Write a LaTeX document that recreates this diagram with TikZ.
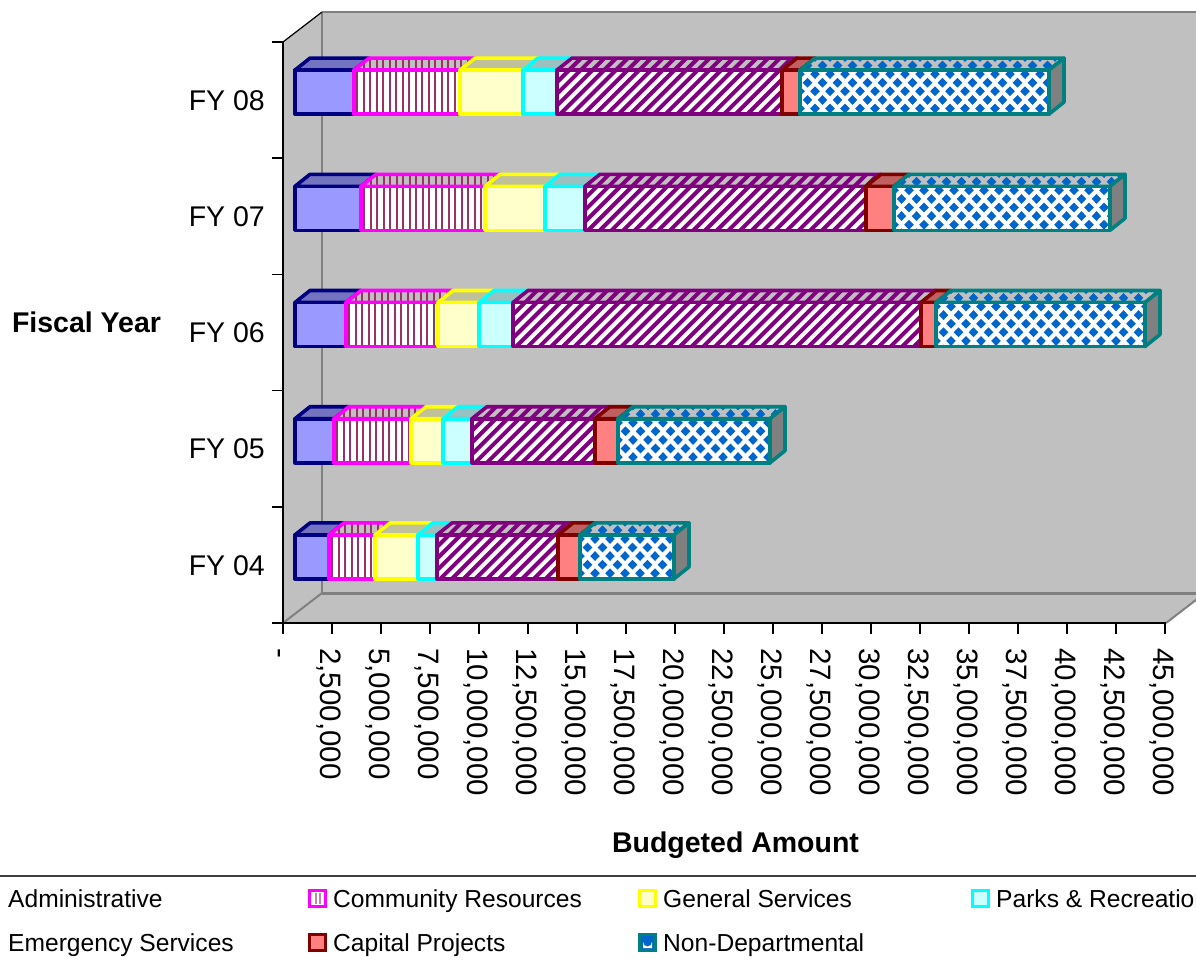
\documentclass[tikz,border=0pt]{standalone}
\usepackage{fontspec}
\setmainfont{Liberation Sans}
\definecolor{navyb}{HTML}{000080}
\definecolor{adminF}{HTML}{9999FF}
\definecolor{adminT}{HTML}{7373C0}
\definecolor{magB}{HTML}{FF00FF}
\definecolor{mauve}{HTML}{993366}
\definecolor{yelB}{HTML}{FFFF00}
\definecolor{yelF}{HTML}{FFFFCC}
\definecolor{yelT}{HTML}{C0C09A}
\definecolor{cyaB}{HTML}{00FFFF}
\definecolor{cyaF}{HTML}{CCFFFF}
\definecolor{cyaT}{HTML}{9AC0C0}
\definecolor{purB}{HTML}{800080}
\definecolor{redB}{HTML}{800000}
\definecolor{redF}{HTML}{FF8080}
\definecolor{redT}{HTML}{C06060}
\definecolor{tealB}{HTML}{008080}
\definecolor{dblue}{HTML}{0066CC}
\definecolor{sblue}{HTML}{1A3F73}
\definecolor{wallG}{HTML}{C0C0C0}
\definecolor{edgeG}{HTML}{808080}
\definecolor{legline}{HTML}{404040}

\tikzset{
  bw/.style={line width=3.6pt, line join=round},
  axlab/.style={font=\fontsize{28.5}{34}\selectfont, inner sep=0pt},
  ticklab/.style={font=\fontsize{29.5}{35}\selectfont, inner sep=0pt},
  axtitle/.style={font=\fontsize{28.5}{34}\selectfont\bfseries, inner sep=0pt},
  leglab/.style={font=\fontsize{24.6}{29}\selectfont, inner sep=0pt, anchor=base west},
  legmark/.style={line width=3pt},
}

% ---------- patterns ----------
\newcommand\stripesV[2]{%
  \pgfmathtruncatemacro\ns{(#2-#1+15)/6.5+1}%
  \foreach \i in {0,...,\ns}{\fill[mauve] ({#1+2+6.5*\i},\yu-3) rectangle ++(2.4,62);}}
\newcommand\hatchP[2]{%
  \pgfmathtruncatemacro\nh{(#2-#1+90)/11.7+1}%
  \foreach \i in {0,...,\nh}{\draw[purB,line width=4pt] ({#1-70+11.7*\i},\yb+3) -- ++(74,-74);}}
\newcommand\diamondsP[3]{%
  \pgfmathtruncatemacro\nd{(#2-#1)/15+2}%
  \foreach \j in {0,...,8}{%
    \pgfmathsetmacro\dy{\yu-9.8+8.6*\j}%
    \pgfmathsetmacro\dxo{#1-7.5+7.5*mod(\j,2)}%
    \foreach \i in {0,...,\nd}{%
      \fill[#3] ({\dxo+15*\i},\dy-4.9) -- ++(4.8,4.9) -- ++(-4.8,4.9) -- ++(-4.8,-4.9) -- cycle;}}}

% ---------- segments ----------
\newcommand\segplain[5]{%
  \filldraw[fill=#4,draw=#5,bw] (#1,\yt) -- (#1+15,\yu) -- (#2+15,\yu) -- (#2,\yt) -- cycle;
  \filldraw[fill=#3,draw=#5,bw] (#1,\yt) rectangle (#2,\yb);}
\newcommand\segstripe[2]{%
  \fill[wallG] (#1,\yt) -- (#1+15,\yu) -- (#2+15,\yu) -- (#2,\yt) -- cycle;
  \begin{scope}\clip (#1,\yt) -- (#1+15,\yu) -- (#2+15,\yu) -- (#2,\yt) -- cycle; \stripesV{#1}{#2}\end{scope}
  \draw[magB,bw] (#1,\yt) -- (#1+15,\yu) -- (#2+15,\yu) -- (#2,\yt) -- cycle;
  \fill[white] (#1,\yt) rectangle (#2,\yb);
  \begin{scope}\clip (#1,\yt) rectangle (#2,\yb); \stripesV{#1}{#2}\end{scope}
  \draw[magB,bw] (#1,\yt) rectangle (#2,\yb);}
\newcommand\seghatch[2]{%
  \fill[wallG] (#1,\yt) -- (#1+15,\yu) -- (#2+15,\yu) -- (#2,\yt) -- cycle;
  \begin{scope}\clip (#1,\yt) -- (#1+15,\yu) -- (#2+15,\yu) -- (#2,\yt) -- cycle; \hatchP{#1}{#2}\end{scope}
  \draw[purB,bw] (#1,\yt) -- (#1+15,\yu) -- (#2+15,\yu) -- (#2,\yt) -- cycle;
  \fill[white] (#1,\yt) rectangle (#2,\yb);
  \begin{scope}\clip (#1,\yt) rectangle (#2,\yb); \hatchP{#1}{#2}\end{scope}
  \draw[purB,bw] (#1,\yt) rectangle (#2,\yb);}
\newcommand\segdiam[2]{%
  \fill[wallG] (#1,\yt) -- (#1+15,\yu) -- (#2+15,\yu) -- (#2,\yt) -- cycle;
  \begin{scope}\clip (#1,\yt) -- (#1+15,\yu) -- (#2+15,\yu) -- (#2,\yt) -- cycle; \diamondsP{#1}{#2+15}{dblue}\end{scope}
  \draw[tealB,bw] (#1,\yt) -- (#1+15,\yu) -- (#2+15,\yu) -- (#2,\yt) -- cycle;
  \fill[edgeG] (#2,\yt) -- (#2+15,\yu) -- (#2+15,\yu+44) -- (#2,\yb) -- cycle;
  \begin{scope}\clip (#2,\yt) -- (#2+15,\yu) -- (#2+15,\yu+44) -- (#2,\yb) -- cycle; \diamondsP{#2-30}{#2+15}{sblue}\end{scope}
  \draw[tealB,bw] (#2,\yt) -- (#2+15,\yu) -- (#2+15,\yu+44) -- (#2,\yb) -- cycle;
  \fill[white] (#1,\yt) rectangle (#2,\yb);
  \begin{scope}\clip (#1,\yt) rectangle (#2,\yb); \diamondsP{#1}{#2}{dblue}\end{scope}
  \draw[tealB,bw] (#1,\yt) rectangle (#2,\yb);}

% #1 = front top y, #2..#9 = segment boundaries
\newcommand\budgetbar[9]{%
  \pgfmathsetmacro\yt{#1}\pgfmathsetmacro\yb{#1+44}\pgfmathsetmacro\yu{#1-12}%
  \segplain{#2}{#3}{adminF}{adminT}{navyb}
  \segstripe{#3}{#4}
  \segplain{#4}{#5}{yelF}{yelT}{yelB}
  \segplain{#5}{#6}{cyaF}{cyaT}{cyaB}
  \seghatch{#6}{#7}
  \segplain{#7}{#8}{redF}{redT}{redB}
  \segdiam{#8}{#9}}

\begin{document}
\begin{tikzpicture}[x=1pt,y=-1pt]
\useasboundingbox (0,0) rectangle (1196,967);
\clip (0,0) rectangle (1196,967);
\fill[white] (0,0) rectangle (1196,967);

% ---------- walls ----------
\fill[wallG] (283,42) -- (322,12) -- (322,593) -- (283,623) -- cycle;
\fill[wallG] (322,12) rectangle (1240,593);
\fill[wallG] (283,623) -- (322,593) -- (1205,593) -- (1166,623) -- cycle;
\draw[edgeG,line width=2pt] (322,12) -- (1240,12);
\draw[edgeG,line width=2.5pt] (322,12) -- (322,593);
\draw[edgeG,line width=3pt] (322,593) -- (1240,593);
\draw[edgeG,line width=2pt] (283,623) -- (322,593);
\draw[edgeG,line width=2pt] (1166,623) -- (1205,593);
\draw[black,line width=1.2pt] (283,42) -- (322,12);

% ---------- axes ----------
\draw[black,line width=1.5pt] (283,42) -- (283,623) -- (1166,623);
\foreach \k in {0,...,5}{\draw[black,line width=1.5pt] (272,{42+116.2*\k}) -- (283,{42+116.2*\k});}
\foreach \k in {0,...,18}{\draw[black,line width=1.5pt] ({283+49*\k},623) -- ({283+49*\k},634);}

% ---------- bars ----------
\budgetbar{70.1}{295}{354}{460}{523}{557}{782}{800}{1049}
\budgetbar{186.3}{295}{361}{485}{545}{585}{866}{894}{1110}
\budgetbar{302.5}{295}{346}{438}{479}{513}{921}{936}{1145}
\budgetbar{418.7}{295}{334}{411}{443}{472}{595}{618}{770}
\budgetbar{534.9}{295}{329}{375}{418}{437}{558}{580}{674}

% ---------- category labels ----------
\node[axlab,anchor=base east] (fy08) at (265,110.3) {FY 08};
\node[axlab,anchor=base east] (fy07) at (265,226.5) {FY 07};
\node[axlab,anchor=base east] (fy06) at (265,342.7) {FY 06};
\node[axlab,anchor=base east] (fy05) at (265,458.9) {FY 05};
\node[axlab,anchor=base east] (fy04) at (265,575.1) {FY 04};

% ---------- value labels ----------
\foreach \k/\lab in {0/-,1/{2,500,000},2/{5,000,000},3/{7,500,000},4/{10,000,000},
  5/{12,500,000},6/{15,000,000},7/{17,500,000},8/{20,000,000},9/{22,500,000},
  10/{25,000,000},11/{27,500,000},12/{30,000,000},13/{32,500,000},14/{35,000,000},
  15/{37,500,000},16/{40,000,000},17/{42,500,000},18/{45,000,000}}{
  \node[ticklab,anchor=base west,rotate=-90] (v\k) at ({283+49*\k-12},648) {\lab};}

% ---------- axis titles ----------
\node[axtitle,anchor=base] (ytitle) at (86.5,332.5) {Fiscal Year};
\node[axtitle,anchor=base] (xtitle) at (735.5,852.5) {Budgeted Amount};

% ---------- legend ----------
\draw[legline,line width=1.5pt] (0,876) -- (1196,876);
\node[leglab] (lg1) at (8,907) {Administrative};
\node[leglab] (lg5) at (8,951) {Emergency Services};

\filldraw[legmark,draw=magB,fill=white] (309.5,890.5) rectangle (325.5,906.5);
\fill[mauve!60] (314.5,893) rectangle (316.5,904);
\fill[mauve!60] (318.5,893) rectangle (320.5,904);
\node[leglab] (lg2) at (333,907) {Community Resources};

\filldraw[legmark,draw=redB,fill=redF] (309.5,934.5) rectangle (325.5,950.5);
\node[leglab] (lg6) at (333,951) {Capital Projects};

\filldraw[legmark,draw=yelB,fill=yelF] (639.5,890.5) rectangle (655.5,906.5);
\node[leglab] (lg3) at (663,907) {General Services};

\filldraw[legmark,draw=tealB,fill=dblue] (639.5,934.5) rectangle (655.5,950.5);
\fill[white] (643,948) -- (643,942) arc[start angle=180,end angle=0,radius=4.5] -- (652,948) -- cycle;
\node[leglab] (lg7) at (663,951) {Non-Departmental};

\filldraw[legmark,draw=cyaB,fill=cyaF] (972.5,890.5) rectangle (988.5,906.5);
\node[leglab] (lg4) at (996,907) {Parks \& Recreation};
\end{tikzpicture}
\end{document}
